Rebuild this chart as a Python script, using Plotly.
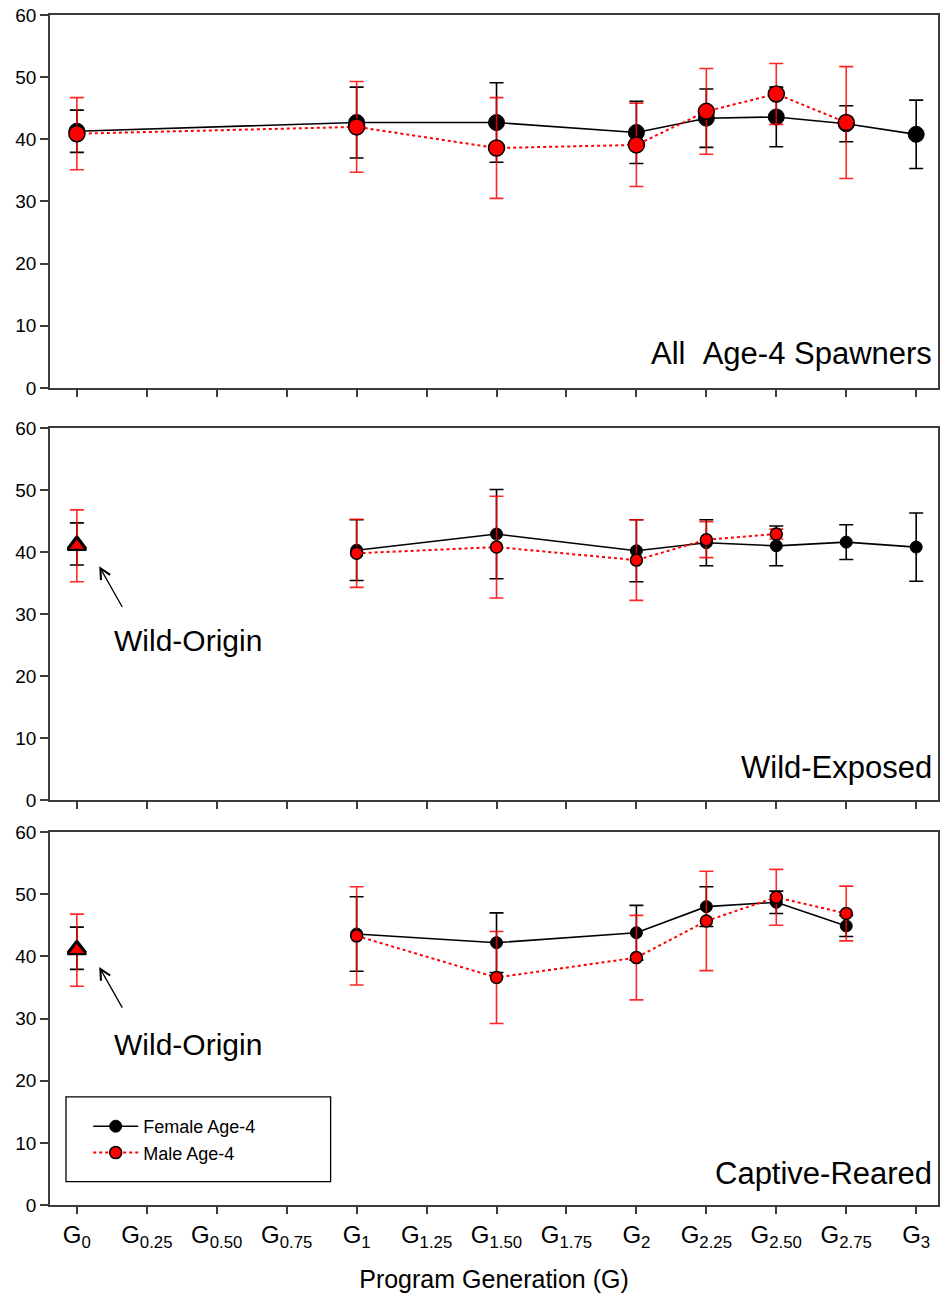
import plotly.graph_objects as go

# ---- data -------------------------------------------------------------
gen_ticks = [0, 0.25, 0.5, 0.75, 1, 1.25, 1.5, 1.75, 2, 2.25, 2.5, 2.75, 3]
gen_labels = ["0", "0.25", "0.50", "0.75", "1", "1.25", "1.50", "1.75",
              "2", "2.25", "2.50", "2.75", "3"]

# wild-origin broodstock (G0)
wild_f, wild_f_err = 41.3, 3.4
wild_m, wild_m_err = 41.0, 5.8

# All age-4 spawners
all_f_x = [0, 1, 1.5, 2, 2.25, 2.5, 2.75, 3]
all_f_y = [41.3, 42.7, 42.7, 41.1, 43.4, 43.6, 42.5, 40.8]
all_f_e = [3.4, 5.7, 6.4, 5.0, 4.7, 4.8, 2.9, 5.5]
all_m_x = [0, 1, 1.5, 2, 2.25, 2.5, 2.75]
all_m_y = [40.9, 42.0, 38.6, 39.1, 44.5, 47.3, 42.7]
all_m_e = [5.8, 7.3, 8.1, 6.7, 6.9, 4.9, 9.0]

# Wild-exposed
we_f_x = [1, 1.5, 2, 2.25, 2.5, 2.75, 3]
we_f_y = [40.3, 42.9, 40.2, 41.5, 41.0, 41.6, 40.8]
we_f_e = [4.9, 7.2, 5.0, 3.7, 3.2, 2.8, 5.5]
we_m_x = [1, 1.5, 2, 2.25, 2.5]
we_m_y = [39.8, 40.8, 38.7, 42.0, 42.9]
we_m_e = [5.5, 8.2, 6.5, 2.9, 0.8]

# Captive-reared
cr_f_x = [1, 1.5, 2, 2.25, 2.5, 2.75]
cr_f_y = [43.6, 42.2, 43.8, 48.0, 48.7, 44.9]
cr_f_e = [6.0, 4.8, 4.4, 3.2, 1.8, 1.7]
cr_m_x = [1, 1.5, 2, 2.25, 2.5, 2.75]
cr_m_y = [43.3, 36.6, 39.8, 45.7, 49.5, 46.9]
cr_m_e = [7.9, 7.4, 6.8, 8.0, 4.5, 4.4]

# ---- styling ----------------------------------------------------------
FONT = "Liberation Sans, Arial, sans-serif"
BLACK = "#000000"
RED = "#ff0000"
AXIS = "#3c3c3c"

fig = go.Figure()


def add_pair(fx, fy, fe, mx, my, me, xa, ya, msize, legend=False):
    fig.add_trace(go.Scatter(
        x=fx, y=fy, xaxis=xa, yaxis=ya, mode="lines+markers",
        name="Female Age-4", showlegend=legend,
        line=dict(color=BLACK, width=1.6),
        marker=dict(color=BLACK, size=msize, line=dict(color=BLACK, width=1)),
        error_y=dict(type="data", array=fe, color=BLACK, thickness=1.6, width=7),
    ))
    fig.add_trace(go.Scatter(
        x=mx, y=my, xaxis=xa, yaxis=ya, mode="lines+markers",
        name="Male Age-4", showlegend=legend,
        line=dict(color=RED, width=2, dash="dot"),
        marker=dict(color=RED, size=msize, line=dict(color=BLACK, width=1.5)),
        error_y=dict(type="data", array=me, color="rgba(255,0,0,0.85)",
                     thickness=1.6, width=7),
    ))


def add_wild(xa, ya):
    fig.add_trace(go.Scatter(
        x=[0], y=[wild_f], xaxis=xa, yaxis=ya, mode="markers", showlegend=False,
        marker=dict(symbol="triangle-up", color=BLACK, size=16,
                    line=dict(color=BLACK, width=2)),
        error_y=dict(type="data", array=[wild_f_err], color=BLACK,
                     thickness=1.6, width=7),
    ))
    fig.add_trace(go.Scatter(
        x=[0], y=[wild_m], xaxis=xa, yaxis=ya, mode="markers", showlegend=False,
        marker=dict(symbol="triangle-up", color=RED, size=16,
                    line=dict(color=BLACK, width=2.2)),
        error_y=dict(type="data", array=[wild_m_err], color="rgba(255,0,0,0.85)",
                     thickness=1.6, width=7),
    ))


add_pair(all_f_x, all_f_y, all_f_e, all_m_x, all_m_y, all_m_e, "x", "y", 16)
add_wild("x2", "y2")
add_pair(we_f_x, we_f_y, we_f_e, we_m_x, we_m_y, we_m_e, "x2", "y2", 12)
add_wild("x3", "y3")
add_pair(cr_f_x, cr_f_y, cr_f_e, cr_m_x, cr_m_y, cr_m_e, "x3", "y3", 12,
         legend=True)

ticktext = [f"G<sub>{s}</sub>" for s in gen_labels]
xcommon = dict(
    range=[-0.096, 3.078], tickmode="array", tickvals=gen_ticks,
    ticks="outside", ticklen=7, tickwidth=1.5,
    tickcolor=AXIS, showline=True, linecolor=AXIS, linewidth=1.5,
    mirror=True, showgrid=False, zeroline=False,
)
ycommon = dict(
    range=[0, 60], tickmode="array", tickvals=[0, 10, 20, 30, 40, 50, 60],
    ticks="outside", ticklen=8, tickwidth=1.5, tickcolor=AXIS,
    showline=True, linecolor=AXIS, linewidth=1.5, mirror=True,
    showgrid=False, zeroline=False,
    tickfont=dict(family=FONT, size=19, color=BLACK),
)

fig.update_layout(
    width=943, height=1295,
    margin=dict(l=50, r=3, t=15, b=90),
    paper_bgcolor="white", plot_bgcolor="white",
    font=dict(family=FONT, color=BLACK),
    xaxis=dict(xcommon, anchor="y", showticklabels=False),
    xaxis2=dict(xcommon, anchor="y2", showticklabels=False),
    xaxis3=dict(xcommon, anchor="y3", ticktext=ticktext,
                tickfont=dict(family=FONT, size=24, color=BLACK),
                title=dict(text="Program Generation (G)",
                           font=dict(family=FONT, size=25, color=BLACK),
                           standoff=20)),
    yaxis=dict(ycommon, domain=[0.6866, 1.0], anchor="x"),
    yaxis2=dict(ycommon, domain=[0.3403, 0.6529], anchor="x2"),
    yaxis3=dict(ycommon, domain=[0.0, 0.3134], anchor="x3"),
    showlegend=True,
    legend=dict(
        x=0.043, y=0.0815, xanchor="left", yanchor="top",
        bgcolor="rgba(0,0,0,0)", borderwidth=0,
        font=dict(family=FONT, size=18, color=BLACK),
        tracegroupgap=0, itemwidth=45,
    ),
)

# legend frame
fig.add_shape(type="rect", xref="paper", yref="paper",
              x0=0.018, x1=0.316, y0=0.0197, y1=0.0908,
              line=dict(color=BLACK, width=1.3), fillcolor="rgba(0,0,0,0)")

title_font = dict(family=FONT, size=31, color=BLACK)
panel_titles = [("All&nbsp;&nbsp;Age-4 Spawners", "y", 5.6),
                ("Wild-Exposed", "y2", 5.2),
                ("Captive-Reared", "y3", 5.0)]
for text, yref, yv in panel_titles:
    fig.add_annotation(text=text, xref="paper", x=0.996, yref=yref, y=yv,
                       xanchor="right", yanchor="middle", showarrow=False,
                       font=title_font)

# "Wild-Origin" labels with arrows toward the G0 triangles
for xref, yref, hy in [("x2", "y2", 37.7), ("x3", "y3", 38.3)]:
    fig.add_annotation(text="Wild-Origin", xref=xref, yref=yref, x=0.125,
                       y=25.8, xanchor="left", yanchor="middle",
                       showarrow=False, font=dict(family=FONT, size=30, color=BLACK))
    fig.add_annotation(text=" ", xref=xref, yref=yref, x=0.08, y=hy,
                       ax=26, ay=46, showarrow=True, arrowhead=5,
                       arrowsize=1.6, arrowwidth=1.3, arrowcolor=BLACK)

fig.write_html("out.html")
